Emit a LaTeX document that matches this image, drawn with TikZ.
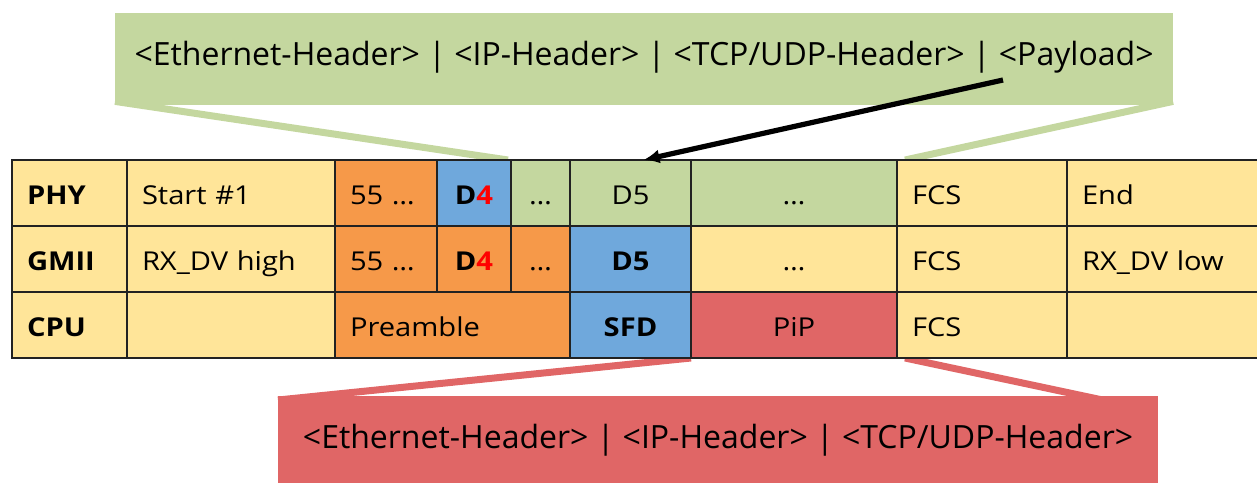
\documentclass[tikz,border=0pt]{standalone}
\usepackage{fontspec}
\setmainfont{Open Sans}
\newfontfamily\cellfont{Open Sans}[FakeStretch=1.12]
\usetikzlibrary{arrows.meta,backgrounds}

\definecolor{celly}{HTML}{FFE599}
\definecolor{cello}{HTML}{F69949}
\definecolor{cellb}{HTML}{6FA8DC}
\definecolor{cellg}{HTML}{C4D79F}
\definecolor{cellr}{HTML}{E06666}
\definecolor{gridc}{HTML}{222222}

\tikzset{
  cell/.style={draw=gridc, line width=0.7pt, anchor=north west, outer sep=0pt,
    inner xsep=7.5pt, inner ysep=0pt, minimum height=33pt,
    text height=11pt, text depth=0pt, font=\cellfont\fontsize{13}{15}\selectfont},
  lcell/.style={cell, align=left},
  ccell/.style={cell, align=center},
  hdrbox/.style={rectangle, outer sep=0pt, minimum height=46pt,
    text height=11.4pt, text depth=5pt, font=\fontsize{16}{19}\selectfont},
  zoomline/.style={line width=3.5pt},
  ptr/.style={line width=2.6pt, -{Latex[length=8pt,width=7pt]}}
}

\begin{document}
\begin{tikzpicture}[x=0.5pt,y=-0.5pt]

\useasboundingbox (0,0) rectangle (1257,482);
\clip (0,0) rectangle (1257,482);

\node (tophdr) at (644,59) [hdrbox, fill=cellg, minimum width=529pt] {<Ethernet-Header> | <IP-Header> | <TCP/UDP-Header> | <Payload>};
\node (redhdr) at (718,442) [hdrbox, fill=cellr, minimum width=440pt] {<Ethernet-Header> | <IP-Header> | <TCP/UDP-Header>};

% PHY
\node (phyLbl) at (12,160) [lcell, fill=celly, text width=42.5pt] {\bfseries PHY};
\node (phyStart) at (127,160) [lcell, fill=celly, text width=89pt] {Start \#1};
\node (phyPre) at (335,160) [lcell, fill=cello, text width=36pt] {55 …};
\node (phySfd) at (437,160) [ccell, fill=cellb, text width=22pt] {\bfseries D\textcolor{red}{4}};
\node (phyDots) at (511,160) [ccell, fill=cellg, text width=14.5pt] {…};
\node (phyD5) at (570,160) [ccell, fill=cellg, text width=45.5pt] {D5};
\node (phyData) at (691,160) [ccell, fill=cellg, text width=88pt] {…};
\node (phyFcs) at (897,160) [lcell, fill=celly, text width=70pt] {FCS};
\node (phyEnd) at (1067,160) [lcell, fill=celly, text width=82.5pt] {End};

% GMII
\node (gmiiLbl) at (12,226) [lcell, fill=celly, text width=42.5pt] {\bfseries GMII};
\node (gmiiStart) at (127,226) [lcell, fill=celly, text width=89pt] {RX\_DV high};
\node (gmiiPre) at (335,226) [lcell, fill=cello, text width=36pt] {55 …};
\node (gmiiSfd) at (437,226) [ccell, fill=cello, text width=22pt] {\bfseries D\textcolor{red}{4}};
\node (gmiiDots) at (511,226) [ccell, fill=cello, text width=14.5pt] {…};
\node (gmiiD5) at (570,226) [ccell, fill=cellb, text width=45.5pt] {\bfseries D5};
\node (gmiiData) at (691,226) [ccell, fill=celly, text width=88pt] {…};
\node (gmiiFcs) at (897,226) [lcell, fill=celly, text width=70pt] {FCS};
\node (gmiiEnd) at (1067,226) [lcell, fill=celly, text width=82.5pt] {RX\_DV low};

% CPU
\node (cpuLbl) at (12,292) [lcell, fill=celly, text width=42.5pt] {\bfseries CPU};
\node (cpuStart) at (127,292) [lcell, fill=celly, text width=89pt] {};
\node (cpuPre) at (335,292) [lcell, fill=cello, text width=102.5pt] {Preamble};
\node (cpuSfd) at (570,292) [ccell, fill=cellb, text width=45.5pt] {\bfseries SFD};
\node (cpuPip) at (691,292) [ccell, fill=cellr, text width=88pt] {PiP};
\node (cpuFcs) at (897,292) [lcell, fill=celly, text width=70pt] {FCS};
\node (cpuEnd) at (1067,292) [lcell, fill=celly, text width=82.5pt] {};

\begin{scope}[on background layer]
  \draw[zoomline, cellg] ([yshift=1.8pt]tophdr.south west) -- ([xshift=-1.5pt]phyDots.north west);
  \draw[zoomline, cellg] ([yshift=1.8pt]tophdr.south east) -- ([xshift=4pt]phyFcs.north west);
  \draw[zoomline, cellr] ([yshift=-2pt]redhdr.north west) -- (cpuPip.south west);
  \draw[zoomline, cellr] ([xshift=4pt]cpuPip.south east) -- ([xshift=197pt,yshift=-3pt]redhdr.north);
\end{scope}

\coordinate (payl) at (1003,80);
\draw[ptr] (payl) -- ([xshift=6.5pt]phyD5.north);

\end{tikzpicture}
\end{document}
